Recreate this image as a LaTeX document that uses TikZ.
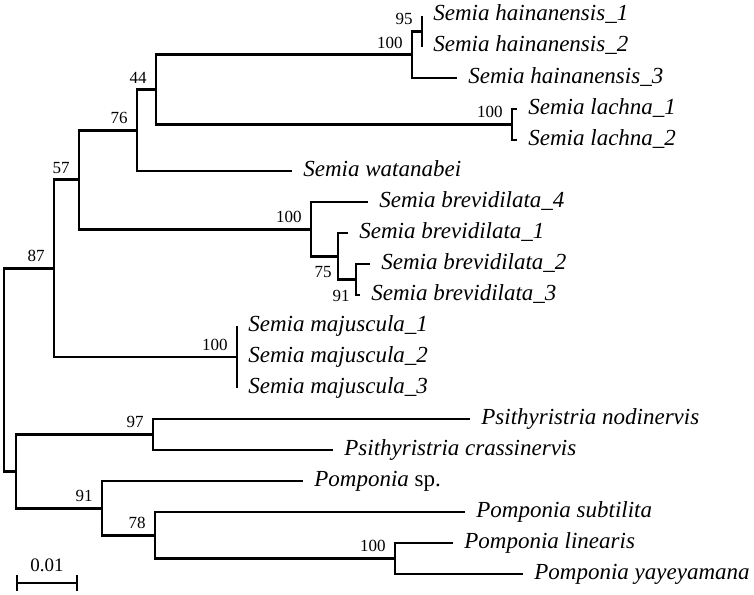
\documentclass[tikz,border=0pt]{standalone}
\usepackage{fontspec}
\setmainfont{Liberation Serif}
\usetikzlibrary{positioning}

\begin{document}
\begin{tikzpicture}[x=1pt,y=-1pt,line width=2.8pt,
  taxon/.style={inner sep=0pt,font=\fontsize{23}{26}\selectfont\itshape,text height=15pt,text depth=5pt},
  boot/.style={inner sep=0pt,font=\fontsize{17}{19}\selectfont}]
  \useasboundingbox (0,0) rectangle (754,594);
  % internal nodes
  \coordinate (root)  at (4,370);
  \coordinate (n87)   at (54,268.4);
  \coordinate (n57)   at (79,179.7);
  \coordinate (n76)   at (137,130.3);
  \coordinate (n44)   at (156,89.6);
  \coordinate (nh100) at (412,54.75);
  \coordinate (nh95)  at (422,31.5);
  \coordinate (nl100) at (512,124.5);
  \coordinate (nb100) at (311,229.1);
  \coordinate (nb75)  at (338,256.25);
  \coordinate (nb91)  at (356,279.5);
  \coordinate (nm100) at (237,357);
  \coordinate (nout)  at (16,471.3);
  \coordinate (n97)   at (153,434.5);
  \coordinate (n91)   at (102,508.1);
  \coordinate (n78)   at (155,535.25);
  \coordinate (np100) at (395,558.5);
  % tips
  \coordinate (h1)  at (422,16);
  \coordinate (h2)  at (422,47);
  \coordinate (h3)  at (457,78);
  \coordinate (l1)  at (517,109);
  \coordinate (l2)  at (517,140);
  \coordinate (wat) at (292,171);
  \coordinate (b4)  at (368,202);
  \coordinate (b1)  at (348,233);
  \coordinate (b2)  at (370,264);
  \coordinate (b3)  at (360,295);
  \coordinate (m1)  at (237,326);
  \coordinate (m2)  at (237,357);
  \coordinate (m3)  at (237,388);
  \coordinate (pn)  at (470,419);
  \coordinate (pc)  at (333,450);
  \coordinate (psp) at (303,481);
  \coordinate (ps)  at (465,512);
  \coordinate (pl)  at (453,543);
  \coordinate (py)  at (523,574);

  \foreach \a/\b in {root/n87,root/nout,n87/n57,n87/nm100,n57/n76,n57/nb100,
      n76/n44,n76/wat,n44/nh100,n44/nl100,nh100/nh95,nh100/h3,nh95/h1,nh95/h2,
      nl100/l1,nl100/l2,nb100/b4,nb100/nb75,nb75/b1,nb75/nb91,nb91/b2,nb91/b3,
      nout/n97,nout/n91,n97/pn,n97/pc,n91/psp,n91/n78,n78/ps,n78/np100,
      np100/pl,np100/py}
    \draw (\a) |- (\b);
  \draw (m1) -- (m3);

  \foreach \t/\s in {h1/Semia hainanensis\_1,h2/Semia hainanensis\_2,
      h3/Semia hainanensis\_3,l1/Semia lachna\_1,l2/Semia lachna\_2,
      wat/Semia watanabei,b4/Semia brevidilata\_4,b1/Semia brevidilata\_1,
      b2/Semia brevidilata\_2,b3/Semia brevidilata\_3,m1/Semia majuscula\_1,
      m2/Semia majuscula\_2,m3/Semia majuscula\_3,pn/Psithyristria nodinervis,
      pc/Psithyristria crassinervis,psp/{Pomponia \textup{sp.}},
      ps/Pomponia subtilita,pl/Pomponia linearis,py/Pomponia yayeyamana}
    \node[taxon, right=10pt of \t] (t-\t) {\s};

  % bootstrap values
  \foreach \n/\v in {n87/87,n57/57,n76/76,n44/44,nh100/100,nh95/95,nl100/100,
      nb100/100,nm100/100,n97/97,n91/91,n78/78,np100/100}
    \node[boot, above left=5pt and 8pt of \n] (bs-\n) {\v};
  \node[boot, below left=9pt and 5pt of nb75] (bs-nb75) {75};
  \node[boot, below left=9pt and 5pt of nb91] (bs-nb91) {91};

  % scale bar
  \coordinate (sa) at (17,583);
  \coordinate (sb) at (77,583);
  \draw (sa) -- (sb);
  \draw ([yshift=8pt]sa) -- ([yshift=-8pt]sa);
  \draw ([yshift=8pt]sb) -- ([yshift=-8pt]sb);
  \path (sa) -- (sb) node[boot, midway, above=10pt, font=\fontsize{19}{21}\selectfont] (sbar) {0.01};
\end{tikzpicture}
\end{document}
